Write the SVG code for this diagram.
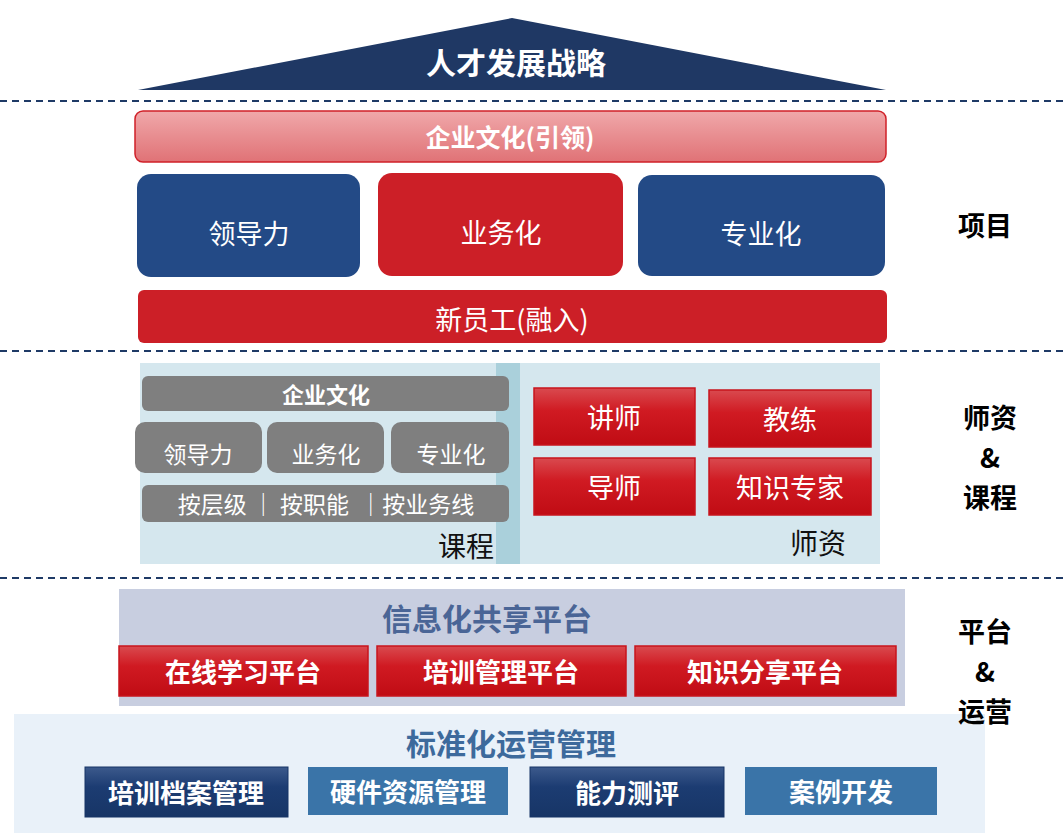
<svg xmlns="http://www.w3.org/2000/svg" width="1064" height="833" viewBox="0 0 1064 833">
<defs>
<linearGradient id="rg" x1="0" y1="0" x2="0" y2="1"><stop offset="0" stop-color="#d94a4f"/><stop offset="0.4" stop-color="#d01a22"/><stop offset="1" stop-color="#c00c14"/></linearGradient>
<linearGradient id="bg" x1="0" y1="0" x2="0" y2="1"><stop offset="0" stop-color="#3c5a8c"/><stop offset="0.4" stop-color="#1c3c72"/><stop offset="1" stop-color="#173566"/></linearGradient>
<linearGradient id="pg" x1="0" y1="0" x2="0" y2="1"><stop offset="0" stop-color="#f0a8aa"/><stop offset="1" stop-color="#e07276"/></linearGradient>
</defs>
<style>
text{font-family:"Noto Sans CJK SC","Liberation Sans",sans-serif;text-anchor:middle;dominant-baseline:central}
.w{fill:#fff}.b{font-weight:bold}
.dash{stroke:#1f3a66;stroke-width:2;stroke-dasharray:7,5}
.gray{fill:#7f7f7f}
.red{fill:url(#rg);stroke:#c8141c;stroke-width:1.5}
.lbl{font-size:27px;font-weight:bold;fill:#000;dominant-baseline:auto}
</style>
<g id="lines">
<line class="dash" x1="0" y1="101" x2="1064" y2="101"/>
<line class="dash" x1="0" y1="351" x2="1064" y2="351"/>
<line class="dash" x1="0" y1="578" x2="1064" y2="578"/>
</g>
<g id="roof"><polygon points="138,90 512,18 886,90" fill="#1f3864"/><text x="516" y="61" class="w b" font-size="30">人才发展战略</text></g>
<g id="culture"><rect x="135" y="111" width="751" height="51" rx="8" fill="url(#pg)" stroke="#d02028" stroke-width="1.5"/><text x="510" y="136" class="w b" font-size="25">企业文化(引领)</text></g>
<g id="lead"><rect x="137" y="174" width="223" height="103" rx="14" fill="#234a86"/><text x="249" y="232" class="w" font-size="27">领导力</text></g>
<g id="biz"><rect x="378" y="173" width="245" height="103" rx="14" fill="#cc1f27"/><text x="501" y="231" class="w" font-size="27">业务化</text></g>
<g id="pro"><rect x="638" y="175" width="247" height="101" rx="14" fill="#234a86"/><text x="761" y="232" class="w" font-size="27">专业化</text></g>
<g id="newemp"><rect x="138" y="290" width="749" height="53" rx="6" fill="#cc1f27"/><text x="512" y="318" class="w" font-size="27">新员工(融入)</text></g>
<g id="course-area">
<rect x="140" y="363" width="740" height="201" fill="#d5e7ee"/>
<rect x="496" y="363" width="24" height="201" fill="#aad0db"/>
<rect x="142" y="376" width="367" height="35" rx="6" class="gray"/><text x="326" y="393" class="w b" font-size="22">企业文化</text>
<rect x="135" y="422" width="127" height="51" rx="10" class="gray"/><text x="198" y="453" class="w" font-size="23">领导力</text>
<rect x="267" y="422" width="117" height="51" rx="10" class="gray"/><text x="326" y="453" class="w" font-size="23">业务化</text>
<rect x="391" y="422" width="118" height="51" rx="10" class="gray"/><text x="451" y="453" class="w" font-size="23">专业化</text>
<rect x="142" y="485" width="367" height="37" rx="6" class="gray"/><text x="326" y="503" class="w" font-size="23" xml:space="preserve">按层级 ｜ 按职能  ｜按业务线</text>
<text x="466" y="545" font-size="28" fill="#111">课程</text>
<text x="818" y="542" font-size="28" fill="#111">师资</text>
</g>
<g id="teach">
<rect x="534" y="388" width="161" height="57" class="red"/><text x="614" y="416" class="w" font-size="27">讲师</text>
<rect x="709" y="390" width="162" height="57" class="red"/><text x="790" y="418" class="w" font-size="27">教练</text>
<rect x="534" y="458" width="161" height="57" class="red"/><text x="614" y="486" class="w" font-size="27">导师</text>
<rect x="709" y="458" width="162" height="57" class="red"/><text x="790" y="486" class="w" font-size="27">知识专家</text>
</g>
<g id="info">
<rect x="119" y="589" width="786" height="117" fill="#c8cee0"/>
<text x="487" y="617" class="b" font-size="30" fill="#4a6596">信息化共享平台</text>
<rect x="119" y="646" width="249" height="50" class="red"/><text x="243" y="670" class="w b" font-size="26">在线学习平台</text>
<rect x="377" y="646" width="249" height="50" class="red"/><text x="501" y="670" class="w b" font-size="26">培训管理平台</text>
<rect x="635" y="646" width="261" height="50" class="red"/><text x="765" y="670" class="w b" font-size="26">知识分享平台</text>
</g>
<g id="ops">
<rect x="14" y="714" width="971" height="119" fill="#e9f1f9"/>
<text x="511" y="742" class="b" font-size="30" fill="#3d6a9c">标准化运营管理</text>
<rect x="85" y="767" width="203" height="50" fill="url(#bg)" stroke="#173566"/><text x="186" y="791" class="w b" font-size="26">培训档案管理</text>
<rect x="308" y="767" width="200" height="48" fill="#3a74a8"/><text x="408" y="790" class="w b" font-size="26">硬件资源管理</text>
<rect x="530" y="767" width="194" height="50" fill="url(#bg)" stroke="#173566"/><text x="627" y="791" class="w b" font-size="26">能力测评</text>
<rect x="745" y="767" width="192" height="48" fill="#3a74a8"/><text x="841" y="790" class="w b" font-size="26">案例开发</text>
</g>
<g id="labels">
<text x="985" y="236" class="lbl" font-size="30">项目</text>
<text class="lbl"><tspan x="990" y="428">师资</tspan><tspan x="990" y="468">&amp;</tspan><tspan x="990" y="508">课程</tspan></text>
<text class="lbl"><tspan x="985" y="642">平台</tspan><tspan x="985" y="682">&amp;</tspan><tspan x="985" y="722">运营</tspan></text>
</g>
</svg>
